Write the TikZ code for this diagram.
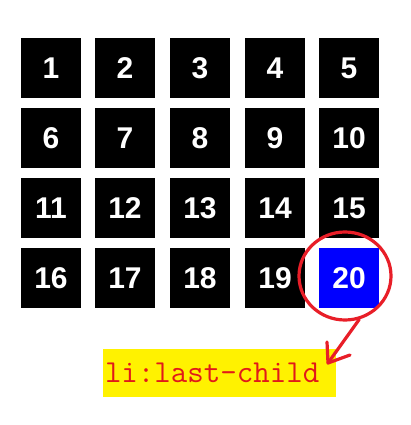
\documentclass[tikz,border=0pt]{standalone}
\usepackage{fontspec}
\newfontfamily\numfont{Liberation Sans}
\usetikzlibrary{shapes.geometric,calc}
\definecolor{markred}{RGB}{232,30,40}
\definecolor{txtred}{RGB}{225,25,25}
\definecolor{hlyellow}{RGB}{255,242,0}
\begin{document}
\begin{tikzpicture}[x=1pt,y=-1pt,
  cell/.style={fill=black,text=white,minimum width=60pt,minimum height=60pt,inner sep=0pt,
    font=\numfont\bfseries\fontsize{30}{30}\selectfont},
  lastcell/.style={cell,fill=blue},
  redmark/.style={draw=markred,line width=3.2pt}]
\useasboundingbox (0,0) rectangle (410,425);
\foreach \r in {0,...,3}{
  \foreach \c/\x in {0/51,1/125,2/200,3/275,4/349}{
    \pgfmathtruncatemacro\n{\r*5+\c+1}
    \ifnum\n=20\relax
      \node[lastcell] (n\n) at (\x,{68+70*\r}) {\n};
    \else
      \node[cell] (n\n) at (\x,{68+70*\r}) {\n};
    \fi
  }
}
\node[ellipse,redmark,minimum width=92pt,minimum height=88pt,inner sep=0pt] (c) at (345,276) {};
\node[fill=hlyellow,text=txtred,minimum width=233pt,minimum height=48pt,text width=229pt,
  inner xsep=2pt,align=left,font=\ttfamily\fontsize{32}{32}\selectfont] (lbl) at (219.5,373) {li:last-child};
\coordinate (tip) at (328,363);
\draw[redmark,line cap=round,line join=round] (c.-72) -- (tip);
\draw[redmark,line cap=round,line join=round] ($(tip)+(-1,-21)$) -- (tip) -- ++(22,-8);
\end{tikzpicture}
\end{document}
